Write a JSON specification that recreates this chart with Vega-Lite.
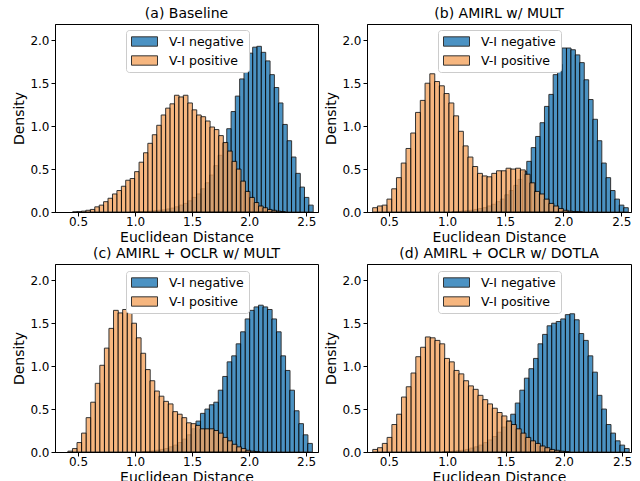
{
  "$schema": "https://vega.github.io/schema/vega-lite/v6.json",
  "autosize": {"type": "pad"},
  "padding": {"left": 12, "top": 6, "right": 4, "bottom": 2},
  "background": "white",
  "bounds": "flush",
  "spacing": {"row": 52, "column": 49},
  "columns": 2,
  "resolve": {"scale": {"color": "independent"}},
  "config": {
    "font": "DejaVu Sans",
    "view": {"stroke": "black", "strokeWidth": 1},
    "axis": {"grid": false, "domainColor": "black", "tickColor": "black", "labelColor": "black", "titleColor": "black", "labelFont": "DejaVu Sans", "titleFont": "DejaVu Sans", "labelFontSize": 12, "titleFontSize": 14, "titleFontWeight": "normal", "tickSize": 4, "labelPadding": 2, "titlePadding": 3, "labelFlush": false, "labelOverlap": false, "labelBound": false},
    "axisX": {"labelPadding": 0, "titlePadding": 3},
    "title": {"font": "DejaVu Sans", "fontSize": 14, "fontWeight": "normal", "color": "black", "offset": 3},
    "legend": {"labelFont": "DejaVu Sans", "labelFontSize": 12.5, "labelColor": "black", "symbolType": "M-1,-0.36H1V0.36H-1Z", "symbolSize": 676, "symbolStrokeColor": "black", "symbolStrokeWidth": 1, "symbolOpacity": 0.8, "clipHeight": 13, "rowPadding": 6, "labelOffset": 11, "padding": 5, "fillColor": "white", "strokeColor": "#cccccc", "cornerRadius": 3}
  },
  "concat": [
    {
      "title": "(a) Baseline",
      "width": 263, "height": 188,
      "data": {"values": [
        {"s":"n","x":0.991,"y":0.002},{"s":"n","x":1.029,"y":0.003},{"s":"n","x":1.067,"y":0.005},{"s":"n","x":1.105,"y":0.007},{"s":"n","x":1.142,"y":0.01},{"s":"n","x":1.180,"y":0.015},{"s":"n","x":1.218,"y":0.02},{"s":"n","x":1.256,"y":0.025},{"s":"n","x":1.294,"y":0.035},{"s":"n","x":1.331,"y":0.045},{"s":"n","x":1.369,"y":0.06},{"s":"n","x":1.407,"y":0.08},{"s":"n","x":1.445,"y":0.10},{"s":"n","x":1.483,"y":0.13},{"s":"n","x":1.520,"y":0.17},{"s":"n","x":1.558,"y":0.21},{"s":"n","x":1.596,"y":0.27},{"s":"n","x":1.634,"y":0.34},{"s":"n","x":1.672,"y":0.43},{"s":"n","x":1.709,"y":0.54},{"s":"n","x":1.747,"y":0.66},{"s":"n","x":1.785,"y":0.80},{"s":"n","x":1.823,"y":0.97},{"s":"n","x":1.861,"y":1.17},{"s":"n","x":1.898,"y":1.35},{"s":"n","x":1.936,"y":1.55},{"s":"n","x":1.974,"y":1.72},{"s":"n","x":2.012,"y":1.85},{"s":"n","x":2.050,"y":1.92},{"s":"n","x":2.087,"y":1.93},{"s":"n","x":2.125,"y":1.86},{"s":"n","x":2.163,"y":1.76},{"s":"n","x":2.201,"y":1.60},{"s":"n","x":2.239,"y":1.45},{"s":"n","x":2.276,"y":1.27},{"s":"n","x":2.314,"y":1.02},{"s":"n","x":2.352,"y":0.83},{"s":"n","x":2.390,"y":0.64},{"s":"n","x":2.428,"y":0.45},{"s":"n","x":2.465,"y":0.29},{"s":"n","x":2.503,"y":0.17},{"s":"n","x":2.541,"y":0.08},
        {"s":"p","x":0.473,"y":0.002},{"s":"p","x":0.511,"y":0.005},{"s":"p","x":0.550,"y":0.01},{"s":"p","x":0.589,"y":0.02},{"s":"p","x":0.628,"y":0.03},{"s":"p","x":0.667,"y":0.06},{"s":"p","x":0.706,"y":0.08},{"s":"p","x":0.744,"y":0.12},{"s":"p","x":0.783,"y":0.16},{"s":"p","x":0.822,"y":0.21},{"s":"p","x":0.861,"y":0.25},{"s":"p","x":0.900,"y":0.30},{"s":"p","x":0.938,"y":0.37},{"s":"p","x":0.977,"y":0.39},{"s":"p","x":1.016,"y":0.47},{"s":"p","x":1.055,"y":0.58},{"s":"p","x":1.094,"y":0.69},{"s":"p","x":1.132,"y":0.80},{"s":"p","x":1.171,"y":0.90},{"s":"p","x":1.210,"y":1.01},{"s":"p","x":1.249,"y":1.13},{"s":"p","x":1.288,"y":1.21},{"s":"p","x":1.326,"y":1.26},{"s":"p","x":1.365,"y":1.36},{"s":"p","x":1.404,"y":1.34},{"s":"p","x":1.443,"y":1.36},{"s":"p","x":1.482,"y":1.27},{"s":"p","x":1.520,"y":1.19},{"s":"p","x":1.559,"y":1.13},{"s":"p","x":1.598,"y":1.11},{"s":"p","x":1.637,"y":1.06},{"s":"p","x":1.676,"y":0.99},{"s":"p","x":1.714,"y":0.96},{"s":"p","x":1.753,"y":0.89},{"s":"p","x":1.792,"y":0.81},{"s":"p","x":1.831,"y":0.71},{"s":"p","x":1.870,"y":0.59},{"s":"p","x":1.908,"y":0.50},{"s":"p","x":1.947,"y":0.36},{"s":"p","x":1.986,"y":0.24},{"s":"p","x":2.025,"y":0.17},{"s":"p","x":2.064,"y":0.11},{"s":"p","x":2.102,"y":0.07},{"s":"p","x":2.141,"y":0.05},{"s":"p","x":2.180,"y":0.03},{"s":"p","x":2.219,"y":0.02},{"s":"p","x":2.258,"y":0.01},{"s":"p","x":2.296,"y":0.005}
      ]},
      "encoding": {
        "x": {"field": "x", "type": "quantitative", "scale": {"domain": [0.342, 2.559], "nice": false, "zero": false}, "axis": {"values": [0.5, 1, 1.5, 2, 2.5], "format": ".1f", "title": "Euclidean Distance"}},
        "y": {"field": "y", "type": "quantitative", "scale": {"domain": [0, 2.19], "nice": false}, "axis": {"values": [0, 0.5, 1, 1.5, 2], "format": ".1f", "title": "Density"}},
        "color": {"field": "s", "type": "nominal", "scale": {"domain": ["n", "p"], "range": ["#1f77b4", "#f4a460"]}, "legend": {"title": null, "orient": "none", "legendX": 71, "legendY": 6, "labelExpr": "datum.label == 'n' ? 'V-I negative' : 'V-I positive'"}}
      },
      "layer": [
        {"transform": [{"filter": "datum.s == 'n'"}], "mark": {"type": "bar", "width": 4.48, "clip": true, "opacity": 0.8, "stroke": "black", "strokeWidth": 1}},
        {"transform": [{"filter": "datum.s == 'p'"}], "mark": {"type": "bar", "width": 4.6, "clip": true, "opacity": 0.8, "stroke": "black", "strokeWidth": 1}}
      ]
    },
    {
      "title": "(b) AMIRL w/ MULT",
      "width": 264, "height": 188,
      "data": {"values": [
        {"s":"n","x":1.062,"y":0.004},{"s":"n","x":1.100,"y":0.006},{"s":"n","x":1.137,"y":0.01},{"s":"n","x":1.175,"y":0.015},{"s":"n","x":1.213,"y":0.02},{"s":"n","x":1.251,"y":0.03},{"s":"n","x":1.289,"y":0.04},{"s":"n","x":1.327,"y":0.05},{"s":"n","x":1.365,"y":0.07},{"s":"n","x":1.403,"y":0.09},{"s":"n","x":1.441,"y":0.12},{"s":"n","x":1.479,"y":0.15},{"s":"n","x":1.516,"y":0.20},{"s":"n","x":1.554,"y":0.25},{"s":"n","x":1.592,"y":0.31},{"s":"n","x":1.630,"y":0.38},{"s":"n","x":1.668,"y":0.47},{"s":"n","x":1.706,"y":0.59},{"s":"n","x":1.744,"y":0.75},{"s":"n","x":1.782,"y":0.88},{"s":"n","x":1.820,"y":1.04},{"s":"n","x":1.858,"y":1.23},{"s":"n","x":1.896,"y":1.37},{"s":"n","x":1.933,"y":1.60},{"s":"n","x":1.971,"y":1.72},{"s":"n","x":2.009,"y":1.91},{"s":"n","x":2.047,"y":1.91},{"s":"n","x":2.085,"y":1.89},{"s":"n","x":2.123,"y":1.83},{"s":"n","x":2.161,"y":1.74},{"s":"n","x":2.199,"y":1.54},{"s":"n","x":2.237,"y":1.31},{"s":"n","x":2.275,"y":1.08},{"s":"n","x":2.312,"y":0.83},{"s":"n","x":2.350,"y":0.57},{"s":"n","x":2.388,"y":0.40},{"s":"n","x":2.426,"y":0.25},{"s":"n","x":2.464,"y":0.15},{"s":"n","x":2.502,"y":0.08},{"s":"n","x":2.540,"y":0.05},
        {"s":"p","x":0.381,"y":0.05},{"s":"p","x":0.422,"y":0.07},{"s":"p","x":0.463,"y":0.08},{"s":"p","x":0.504,"y":0.15},{"s":"p","x":0.545,"y":0.27},{"s":"p","x":0.586,"y":0.40},{"s":"p","x":0.627,"y":0.57},{"s":"p","x":0.668,"y":0.74},{"s":"p","x":0.709,"y":0.92},{"s":"p","x":0.750,"y":1.16},{"s":"p","x":0.791,"y":1.30},{"s":"p","x":0.832,"y":1.50},{"s":"p","x":0.873,"y":1.61},{"s":"p","x":0.914,"y":1.52},{"s":"p","x":0.955,"y":1.47},{"s":"p","x":0.996,"y":1.38},{"s":"p","x":1.037,"y":1.27},{"s":"p","x":1.078,"y":1.12},{"s":"p","x":1.119,"y":0.94},{"s":"p","x":1.160,"y":0.77},{"s":"p","x":1.201,"y":0.64},{"s":"p","x":1.242,"y":0.53},{"s":"p","x":1.283,"y":0.45},{"s":"p","x":1.324,"y":0.42},{"s":"p","x":1.365,"y":0.41},{"s":"p","x":1.406,"y":0.45},{"s":"p","x":1.447,"y":0.48},{"s":"p","x":1.488,"y":0.48},{"s":"p","x":1.529,"y":0.51},{"s":"p","x":1.570,"y":0.50},{"s":"p","x":1.611,"y":0.51},{"s":"p","x":1.652,"y":0.49},{"s":"p","x":1.693,"y":0.44},{"s":"p","x":1.734,"y":0.34},{"s":"p","x":1.775,"y":0.24},{"s":"p","x":1.816,"y":0.21},{"s":"p","x":1.857,"y":0.15},{"s":"p","x":1.898,"y":0.10},{"s":"p","x":1.939,"y":0.07},{"s":"p","x":1.980,"y":0.04},{"s":"p","x":2.021,"y":0.02},{"s":"p","x":2.062,"y":0.01},{"s":"p","x":2.103,"y":0.005},{"s":"p","x":2.144,"y":0.003}
      ]},
      "encoding": {
        "x": {"field": "x", "type": "quantitative", "scale": {"domain": [0.354, 2.54], "nice": false, "zero": false}, "axis": {"values": [0.5, 1, 1.5, 2, 2.5], "format": ".1f", "title": "Euclidean Distance"}},
        "y": {"field": "y", "type": "quantitative", "scale": {"domain": [0, 2.19], "nice": false}, "axis": {"values": [0, 0.5, 1, 1.5, 2], "format": ".1f", "title": "Density"}},
        "color": {"field": "s", "type": "nominal", "scale": {"domain": ["n", "p"], "range": ["#1f77b4", "#f4a460"]}, "legend": {"title": null, "orient": "none", "legendX": 71, "legendY": 6, "labelExpr": "datum.label == 'n' ? 'V-I negative' : 'V-I positive'"}}
      },
      "layer": [
        {"transform": [{"filter": "datum.s == 'n'"}], "mark": {"type": "bar", "width": 4.58, "clip": true, "opacity": 0.8, "stroke": "black", "strokeWidth": 1}},
        {"transform": [{"filter": "datum.s == 'p'"}], "mark": {"type": "bar", "width": 4.95, "clip": true, "opacity": 0.8, "stroke": "black", "strokeWidth": 1}}
      ]
    },
    {
      "title": "(c) AMIRL + OCLR w/ MULT",
      "width": 263, "height": 188,
      "data": {"values": [
        {"s":"n","x":1.083,"y":0.005},{"s":"n","x":1.122,"y":0.008},{"s":"n","x":1.162,"y":0.012},{"s":"n","x":1.201,"y":0.02},{"s":"n","x":1.240,"y":0.03},{"s":"n","x":1.280,"y":0.04},{"s":"n","x":1.319,"y":0.06},{"s":"n","x":1.358,"y":0.08},{"s":"n","x":1.398,"y":0.11},{"s":"n","x":1.437,"y":0.15},{"s":"n","x":1.476,"y":0.20},{"s":"n","x":1.516,"y":0.27},{"s":"n","x":1.555,"y":0.36},{"s":"n","x":1.594,"y":0.45},{"s":"n","x":1.633,"y":0.50},{"s":"n","x":1.672,"y":0.55},{"s":"n","x":1.711,"y":0.58},{"s":"n","x":1.750,"y":0.72},{"s":"n","x":1.789,"y":0.88},{"s":"n","x":1.828,"y":1.05},{"s":"n","x":1.868,"y":1.12},{"s":"n","x":1.907,"y":1.26},{"s":"n","x":1.946,"y":1.40},{"s":"n","x":1.986,"y":1.55},{"s":"n","x":2.025,"y":1.65},{"s":"n","x":2.064,"y":1.69},{"s":"n","x":2.103,"y":1.71},{"s":"n","x":2.142,"y":1.69},{"s":"n","x":2.181,"y":1.66},{"s":"n","x":2.220,"y":1.55},{"s":"n","x":2.260,"y":1.40},{"s":"n","x":2.299,"y":1.12},{"s":"n","x":2.338,"y":0.95},{"s":"n","x":2.377,"y":0.72},{"s":"n","x":2.417,"y":0.48},{"s":"n","x":2.456,"y":0.33},{"s":"n","x":2.495,"y":0.20},{"s":"n","x":2.534,"y":0.10},
        {"s":"p","x":0.432,"y":0.01},{"s":"p","x":0.472,"y":0.04},{"s":"p","x":0.512,"y":0.11},{"s":"p","x":0.552,"y":0.22},{"s":"p","x":0.592,"y":0.40},{"s":"p","x":0.632,"y":0.58},{"s":"p","x":0.672,"y":0.80},{"s":"p","x":0.712,"y":1.01},{"s":"p","x":0.752,"y":1.21},{"s":"p","x":0.792,"y":1.44},{"s":"p","x":0.832,"y":1.65},{"s":"p","x":0.872,"y":1.62},{"s":"p","x":0.912,"y":1.66},{"s":"p","x":0.952,"y":1.62},{"s":"p","x":0.992,"y":1.50},{"s":"p","x":1.032,"y":1.33},{"s":"p","x":1.072,"y":1.15},{"s":"p","x":1.112,"y":0.96},{"s":"p","x":1.152,"y":0.83},{"s":"p","x":1.192,"y":0.71},{"s":"p","x":1.232,"y":0.65},{"s":"p","x":1.272,"y":0.59},{"s":"p","x":1.312,"y":0.56},{"s":"p","x":1.352,"y":0.47},{"s":"p","x":1.392,"y":0.44},{"s":"p","x":1.432,"y":0.40},{"s":"p","x":1.472,"y":0.34},{"s":"p","x":1.512,"y":0.33},{"s":"p","x":1.552,"y":0.31},{"s":"p","x":1.592,"y":0.27},{"s":"p","x":1.632,"y":0.27},{"s":"p","x":1.672,"y":0.27},{"s":"p","x":1.712,"y":0.25},{"s":"p","x":1.752,"y":0.22},{"s":"p","x":1.792,"y":0.17},{"s":"p","x":1.832,"y":0.13},{"s":"p","x":1.872,"y":0.09},{"s":"p","x":1.912,"y":0.06},{"s":"p","x":1.952,"y":0.04},{"s":"p","x":1.992,"y":0.02},{"s":"p","x":2.032,"y":0.01},{"s":"p","x":2.072,"y":0.005}
      ]},
      "encoding": {
        "x": {"field": "x", "type": "quantitative", "scale": {"domain": [0.342, 2.56], "nice": false, "zero": false}, "axis": {"values": [0.5, 1, 1.5, 2, 2.5], "format": ".1f", "title": "Euclidean Distance"}},
        "y": {"field": "y", "type": "quantitative", "scale": {"domain": [0, 2.19], "nice": false}, "axis": {"values": [0, 0.5, 1, 1.5, 2], "format": ".1f", "title": "Density"}},
        "color": {"field": "s", "type": "nominal", "scale": {"domain": ["n", "p"], "range": ["#1f77b4", "#f4a460"]}, "legend": {"title": null, "orient": "none", "legendX": 71, "legendY": 7, "labelExpr": "datum.label == 'n' ? 'V-I negative' : 'V-I positive'"}}
      },
      "layer": [
        {"transform": [{"filter": "datum.s == 'n'"}], "mark": {"type": "bar", "width": 4.67, "clip": true, "opacity": 0.8, "stroke": "black", "strokeWidth": 1}},
        {"transform": [{"filter": "datum.s == 'p'"}], "mark": {"type": "bar", "width": 4.74, "clip": true, "opacity": 0.8, "stroke": "black", "strokeWidth": 1}}
      ]
    },
    {
      "title": "(d) AMIRL + OCLR w/ DOTLA",
      "width": 264, "height": 188,
      "data": {"values": [
        {"s":"n","x":0.980,"y":0.004},{"s":"n","x":1.019,"y":0.006},{"s":"n","x":1.058,"y":0.01},{"s":"n","x":1.097,"y":0.015},{"s":"n","x":1.136,"y":0.02},{"s":"n","x":1.175,"y":0.03},{"s":"n","x":1.214,"y":0.045},{"s":"n","x":1.253,"y":0.06},{"s":"n","x":1.292,"y":0.08},{"s":"n","x":1.331,"y":0.11},{"s":"n","x":1.370,"y":0.14},{"s":"n","x":1.409,"y":0.18},{"s":"n","x":1.448,"y":0.23},{"s":"n","x":1.487,"y":0.29},{"s":"n","x":1.526,"y":0.36},{"s":"n","x":1.565,"y":0.44},{"s":"n","x":1.604,"y":0.57},{"s":"n","x":1.643,"y":0.72},{"s":"n","x":1.682,"y":0.86},{"s":"n","x":1.721,"y":0.97},{"s":"n","x":1.760,"y":1.09},{"s":"n","x":1.799,"y":1.26},{"s":"n","x":1.838,"y":1.37},{"s":"n","x":1.877,"y":1.47},{"s":"n","x":1.916,"y":1.50},{"s":"n","x":1.955,"y":1.52},{"s":"n","x":1.994,"y":1.55},{"s":"n","x":2.033,"y":1.60},{"s":"n","x":2.072,"y":1.61},{"s":"n","x":2.111,"y":1.54},{"s":"n","x":2.150,"y":1.38},{"s":"n","x":2.189,"y":1.30},{"s":"n","x":2.228,"y":1.12},{"s":"n","x":2.267,"y":0.93},{"s":"n","x":2.306,"y":0.66},{"s":"n","x":2.345,"y":0.50},{"s":"n","x":2.384,"y":0.32},{"s":"n","x":2.423,"y":0.22},{"s":"n","x":2.462,"y":0.13},{"s":"n","x":2.501,"y":0.08},{"s":"n","x":2.540,"y":0.04},
        {"s":"p","x":0.383,"y":0.03},{"s":"p","x":0.424,"y":0.05},{"s":"p","x":0.465,"y":0.10},{"s":"p","x":0.506,"y":0.17},{"s":"p","x":0.547,"y":0.32},{"s":"p","x":0.588,"y":0.44},{"s":"p","x":0.629,"y":0.64},{"s":"p","x":0.670,"y":0.76},{"s":"p","x":0.711,"y":0.92},{"s":"p","x":0.752,"y":1.11},{"s":"p","x":0.793,"y":1.22},{"s":"p","x":0.834,"y":1.34},{"s":"p","x":0.875,"y":1.33},{"s":"p","x":0.916,"y":1.30},{"s":"p","x":0.957,"y":1.26},{"s":"p","x":0.998,"y":1.09},{"s":"p","x":1.039,"y":1.05},{"s":"p","x":1.080,"y":0.95},{"s":"p","x":1.121,"y":0.91},{"s":"p","x":1.162,"y":0.83},{"s":"p","x":1.203,"y":0.77},{"s":"p","x":1.244,"y":0.73},{"s":"p","x":1.285,"y":0.66},{"s":"p","x":1.326,"y":0.61},{"s":"p","x":1.367,"y":0.56},{"s":"p","x":1.408,"y":0.51},{"s":"p","x":1.449,"y":0.46},{"s":"p","x":1.490,"y":0.42},{"s":"p","x":1.531,"y":0.36},{"s":"p","x":1.572,"y":0.32},{"s":"p","x":1.613,"y":0.27},{"s":"p","x":1.654,"y":0.22},{"s":"p","x":1.695,"y":0.17},{"s":"p","x":1.736,"y":0.13},{"s":"p","x":1.777,"y":0.10},{"s":"p","x":1.818,"y":0.07},{"s":"p","x":1.859,"y":0.05},{"s":"p","x":1.900,"y":0.03},{"s":"p","x":1.941,"y":0.02},{"s":"p","x":1.982,"y":0.01},{"s":"p","x":2.023,"y":0.005}
      ]},
      "encoding": {
        "x": {"field": "x", "type": "quantitative", "scale": {"domain": [0.355, 2.533], "nice": false, "zero": false}, "axis": {"values": [0.5, 1, 1.5, 2, 2.5], "format": ".1f", "title": "Euclidean Distance"}},
        "y": {"field": "y", "type": "quantitative", "scale": {"domain": [0, 2.19], "nice": false}, "axis": {"values": [0, 0.5, 1, 1.5, 2], "format": ".1f", "title": "Density"}},
        "color": {"field": "s", "type": "nominal", "scale": {"domain": ["n", "p"], "range": ["#1f77b4", "#f4a460"]}, "legend": {"title": null, "orient": "none", "legendX": 71, "legendY": 7, "labelExpr": "datum.label == 'n' ? 'V-I negative' : 'V-I positive'"}}
      },
      "layer": [
        {"transform": [{"filter": "datum.s == 'n'"}], "mark": {"type": "bar", "width": 4.73, "clip": true, "opacity": 0.8, "stroke": "black", "strokeWidth": 1}},
        {"transform": [{"filter": "datum.s == 'p'"}], "mark": {"type": "bar", "width": 4.97, "clip": true, "opacity": 0.8, "stroke": "black", "strokeWidth": 1}}
      ]
    }
  ]
}
